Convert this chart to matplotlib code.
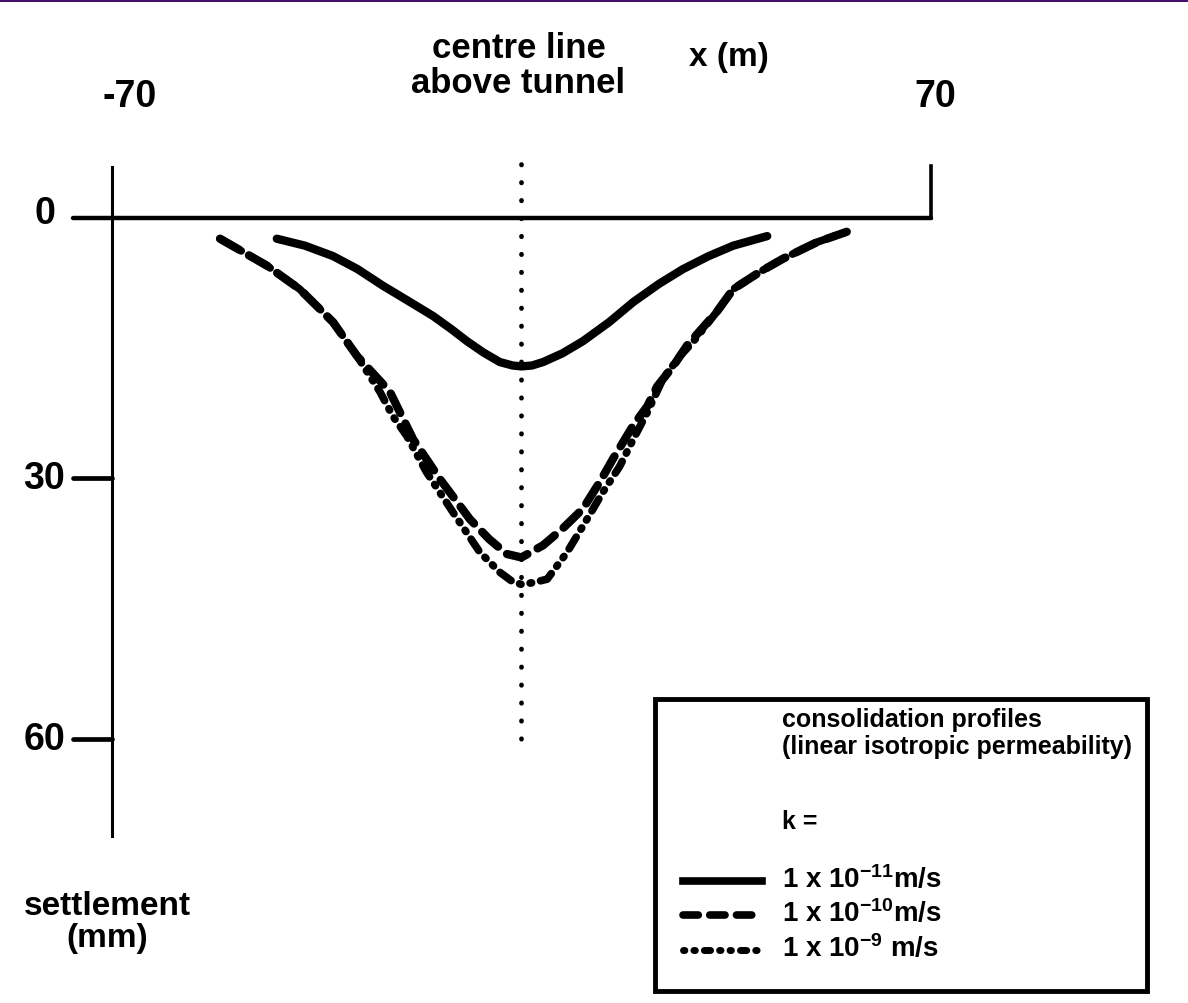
import matplotlib.pyplot as plt
from matplotlib.patches import Rectangle

plt.rcParams['font.family'] = ['Liberation Sans Narrow', 'Liberation Sans', 'DejaVu Sans']
plt.rcParams['font.weight'] = 'bold'
plt.rcParams['mathtext.default'] = 'regular'

# settlement profiles across the tunnel, x in m, settlement in mm
k11_x = [-41.8, -37.0, -32.2, -28.0, -23.7, -19.5, -15.1, -12.0, -9.3, -6.5, -3.7, -1.5,
         0.0, 1.8, 3.7, 7.0, 10.5, 15.0, 19.1, 23.5, 27.6, 32.0, 36.2, 42.0]
k11_y = [2.4, 3.2, 4.4, 5.9, 7.8, 9.5, 11.3, 12.8, 14.2, 15.5, 16.6, 17.0,
         17.1, 17.0, 16.6, 15.6, 14.2, 12.0, 9.7, 7.6, 5.9, 4.4, 3.2, 2.1]

k10_x = [-51.5, -43.5, -37.9, -32.2, -28.1, -22.5, -18.5, -13.9, -8.8, -5.5, -2.5, 0.0, 3.7,
         7.0, 10.5, 13.4, 15.6, 19.1, 21.5, 23.2, 25.9, 28.3, 33.4, 36.2, 40.8, 44.7, 50.5, 55.6]
k10_y = [2.4, 5.5, 8.2, 12.0, 15.9, 20.0, 25.5, 30.1, 34.7, 37.0, 38.7, 39.1, 37.7,
         35.8, 33.5, 30.4, 27.8, 23.9, 21.7, 19.4, 17.1, 14.7, 10.8, 8.2, 6.2, 4.7, 2.8, 1.6]

k9_x = [-51.5, -43.5, -37.9, -32.2, -28.1, -24.2, -22.0, -19.6, -16.2, -11.7, -7.1, -3.7,
        -1.5, 0.0, 2.0, 4.4, 7.8, 11.2, 13.9, 16.8, 19.1, 21.5, 24.2, 27.1, 29.3, 33.4,
        36.2, 40.8, 44.7, 50.5, 55.6]
k9_y = [2.4, 5.5, 8.2, 12.0, 15.9, 20.0, 22.8, 25.1, 29.3, 33.9, 38.5, 40.8,
        41.9, 42.2, 42.0, 41.6, 38.5, 34.7, 31.6, 28.6, 25.5, 22.4, 18.5, 15.9, 14.3, 10.8,
        8.2, 6.2, 4.7, 2.8, 1.6]

y_ticks = [0, 30, 60]
x_ticks = [-70, 70]

fig = plt.figure(figsize=(11.88, 10.04), dpi=100)
ax = fig.add_axes([0, 0, 1, 1])
ax.set_xlim(-89.1, 113.9)
ax.set_ylim(90.4, -25.2)
ax.axis('off')

# hand-drawn style axes
ax.plot([-76.7, 70], [0, 0], color='black', lw=3.2, solid_capstyle='round')
ax.plot([-70, -70], [-5.9, 71.2], color='black', lw=2.2)
ax.plot([70, 70], [-6.0, 0], color='black', lw=2.6)
for t in y_ticks[1:]:
    ax.plot([-76.7, -70], [t, t], color='black', lw=3.4, solid_capstyle='round')
    ax.text(-81.5, t, str(t), fontsize=27, ha='center', va='center')
ax.text(-81.5, -0.6, '0', fontsize=27, ha='center', va='center')
ax.text(x_ticks[0] + 3.0, -14.0, str(x_ticks[0]), fontsize=27, ha='center', va='center')
ax.text(x_ticks[1] + 0.7, -14.0, str(x_ticks[1]), fontsize=27, ha='center', va='center')

# centre line above the tunnel
ax.plot([0, 0], [-6.2, 60], color='black', lw=3.4, linestyle=(0, (0.1, 3.7)),
        dash_capstyle='round')

ax.text(-0.5, -17.6, 'centre line\nabove tunnel', fontsize=25, ha='center', va='center',
        linespacing=1.05)
ax.text(35.5, -18.6, 'x (m)', fontsize=24, ha='center', va='center')
ax.text(-70.8, 81.0, 'settlement\n(mm)', fontsize=24, ha='center', va='center',
        linespacing=1.05)

# profiles
ax.plot(k11_x, k11_y, color='black', lw=6, solid_capstyle='round', solid_joinstyle='round')
ax.plot(k10_x, k10_y, color='black', lw=6, linestyle=(0, (2.6, 1.4)),
        dash_capstyle='round')
ax.plot(k9_x, k9_y, color='black', lw=5.5, linestyle=(0, (1.8, 1.2, 0.2, 1.2, 0.2, 1.2)),
        dash_capstyle='round')

# legend box
W, H = 1188.0, 1004.0
ax.add_patch(Rectangle((655 / W, 1 - 992 / H), 492 / W, 292 / H, transform=ax.transAxes,
                       fill=False, edgecolor='black', lw=3.5))
tx = 782 / W
ax.text(tx, 1 - 720 / H, 'consolidation profiles', transform=ax.transAxes,
        fontsize=18, va='center', ha='left')
ax.text(tx, 1 - 747 / H, '(linear isotropic permeability)', transform=ax.transAxes,
        fontsize=18, va='center', ha='left')
ax.text(tx, 1 - 822 / H, 'k =', transform=ax.transAxes, fontsize=18, va='center', ha='left')

labels = [r'1 x 10$^{-11}$m/s', r'1 x 10$^{-10}$m/s', r'1 x 10$^{-9}$ m/s']
styles = [dict(lw=5.5, linestyle='-'),
          dict(lw=5.5, linestyle=(0, (2.0, 1.5)), dash_capstyle='round'),
          dict(lw=5, linestyle=(0, (0.2, 1.3, 0.2, 1.3, 0.9, 1.3)), dash_capstyle='round')]
rows = [882, 916, 951]
for lab, st, r in zip(labels, styles, rows):
    ax.plot([683 / W, 762 / W], [1 - r / H, 1 - r / H], transform=ax.transAxes,
            color='black', **st)
    ax.text(tx, 1 - (r - 2) / H, lab, transform=ax.transAxes, fontsize=20,
            va='center', ha='left')

# thin purple band along the top edge
fig.add_artist(Rectangle((0, 1 - 3 / H), 1, 3 / H, transform=fig.transFigure,
                         color='#43106e', lw=0))

fig.savefig('out.png', dpi=100)
